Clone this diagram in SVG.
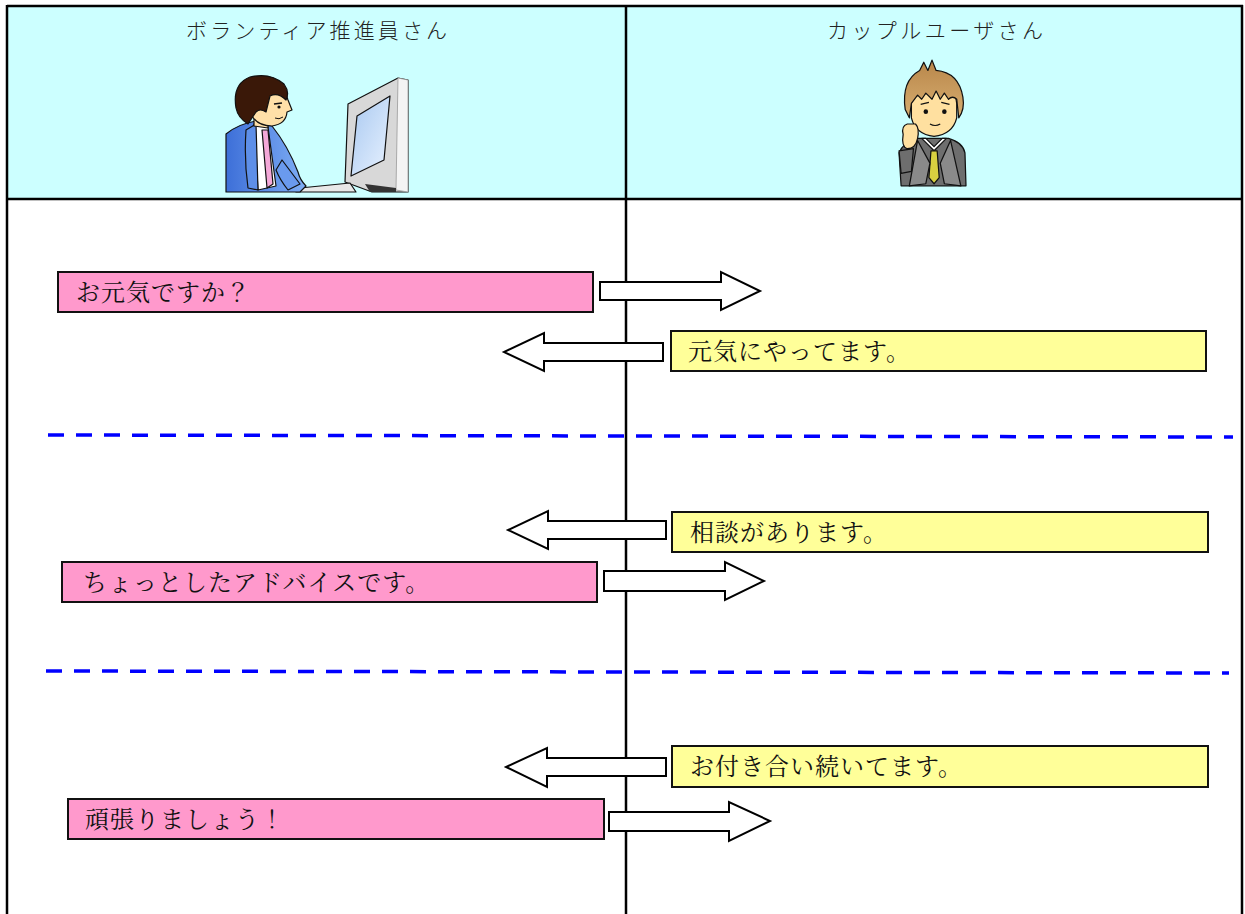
<svg xmlns="http://www.w3.org/2000/svg" width="1245" height="914" viewBox="0 0 1245 914">
  <defs>
    <style>
      .hdr { font-family: "Noto Sans CJK JP", "Noto Sans CJK SC", sans-serif; font-size: 21px; font-weight: 300; fill: #222; }
      .msg { font-family: "Noto Serif CJK JP", "Noto Sans CJK JP", "Noto Sans CJK SC", serif; font-size: 24px; letter-spacing: 1px; fill: #111; }
      .pink { fill: #FF99CC; stroke: #111; stroke-width: 2; }
      .yellow { fill: #FFFF99; stroke: #111; stroke-width: 2; }
      .arrow { fill: #FFFFFF; stroke: #000; stroke-width: 2; stroke-linejoin: miter; }
      .divider { stroke: #0000FF; stroke-width: 3.5; stroke-dasharray: 16 12; fill: none; }
      .grid { stroke: #000; stroke-width: 2.5; fill: none; }
      .ink { stroke: #111; stroke-width: 1.2; stroke-linejoin: round; }
    </style>
    <linearGradient id="suitBlue" x1="0" y1="0" x2="1" y2="0">
      <stop offset="0" stop-color="#3D6FD8"/>
      <stop offset="1" stop-color="#7FAEF5"/>
    </linearGradient>
    <linearGradient id="screen" x1="0" y1="0" x2="1" y2="1">
      <stop offset="0" stop-color="#A8C8F0"/>
      <stop offset="1" stop-color="#E8F2FF"/>
    </linearGradient>
    <linearGradient id="hairBrown" x1="0" y1="0" x2="0" y2="1">
      <stop offset="0" stop-color="#B8864A"/>
      <stop offset="1" stop-color="#D8AE70"/>
    </linearGradient>
  </defs>

  <!-- page background and header band -->
  <rect x="0" y="0" width="1245" height="914" fill="#FFFFFF"/>
  <rect x="7" y="6" width="1236" height="193" fill="#CCFFFF"/>

  <!-- table frame -->
  <g id="table">
    <line class="grid" x1="7" y1="6" x2="1243" y2="6"/>
    <line class="grid" x1="7" y1="199" x2="1243" y2="199"/>
    <line class="grid" x1="7" y1="5" x2="7" y2="914"/>
    <line class="grid" x1="1242" y1="5" x2="1242" y2="914"/>
    <line class="grid" x1="626" y1="5" x2="626" y2="914"/>
  </g>

  <!-- column heading: volunteer -->
  <g id="volunteer">
    <text class="hdr" x="186" y="38" textLength="261" lengthAdjust="spacing">ボランティア推進員さん</text>
    <!-- monitor -->
    <g id="monitor">
      <polygon points="348,104 398,78 408,80 408,192 372,192 345,182" fill="#D8D8D8" class="ink"/>
      <polygon points="398,78 408,80 408,192 396,190" fill="#F4F4F4" stroke="#999" stroke-width="0.8"/>
      <polygon points="357,116 390,96 384,160 351,176" fill="url(#screen)" class="ink"/>
      <polygon points="365,184 396,188 396,192 370,192" fill="#333"/>
    </g>
    <!-- keyboard -->
    <polygon points="300,188 350,183 356,192 296,192" fill="#E8E8E8" class="ink"/>
    <!-- man -->
    <g id="manAtDesk">
      <path d="M226,192 L226,134 Q238,124 256,121 L272,126 Q288,146 298,172 Q300,180 306,186 L300,192 Z" fill="url(#suitBlue)" class="ink"/>
      <path d="M254,124 L268,127 L276,186 L258,190 Z" fill="#FFFFFF" class="ink"/>
      <path d="M262,130 L268,130 L273,184 L267,188 Z" fill="#F4A8D8" class="ink"/>
      <path d="M246,130 L256,124 L258,190 L248,188 Q244,160 246,130 Z" fill="#5E8FE8" class="ink"/>
      <path d="M282,160 Q294,176 300,184 L288,190 Q280,180 276,170 Z" fill="#6A9AEE" class="ink"/>
      <path d="M254,110 L254,126 L268,128 L268,112 Z" fill="#FFE0A8" class="ink"/>
      <path d="M244,96 Q246,82 264,82 Q284,84 288,100 L292,110 L287,112 Q286,124 272,126 Q258,126 252,116 Q244,112 244,96 Z" fill="#FFE0A8" class="ink"/>
      <path d="M236,108 Q232,84 250,77 Q270,72 284,84 Q290,92 286,100 Q278,92 270,96 L266,112 Q260,108 256,112 Q252,118 248,124 Q238,118 236,108 Z" fill="#3A1808" class="ink"/>
      <path d="M274,104 L282,103" stroke="#111" stroke-width="1.6"/>
      <circle cx="279" cy="107" r="1.6" fill="#111"/>
      <path d="M275,118 Q279,120 283,117" stroke="#111" stroke-width="1" fill="none"/>
    </g>
  </g>

  <!-- column heading: couple user -->
  <g id="coupleUser">
    <text class="hdr" x="827" y="38" textLength="216" lengthAdjust="spacing">カップルユーザさん</text>
    <g id="youngMan" transform="translate(932,124) scale(1.03) translate(-932,-124)">
      <!-- suit -->
      <path d="M902,184 L900,152 Q904,142 918,138 L948,138 Q962,142 964,152 L965,184 Z" fill="#6E6E6E" class="ink"/>
      <path d="M922,138 L934,150 L946,138 L942,138 L934,146 L926,138 Z" fill="#FFFFFF" class="ink"/>
      <path d="M931,150 L937,150 L939,176 L934,182 L929,176 Z" fill="#D8D040" class="ink"/>
      <path d="M918,140 L930,162 L926,182 L910,184 Z" fill="#8A8A8A" class="ink"/>
      <path d="M950,140 L940,162 L944,182 L960,184 Z" fill="#8A8A8A" class="ink"/>
      <!-- head -->
      <path d="M912,104 Q912,84 932,82 Q954,84 956,104 L956,118 Q952,134 934,136 Q916,134 912,118 Z" fill="#FFE0A0" class="ink"/>
      <path d="M906,110 Q902,82 920,72 L924,64 L928,72 L932,62 L936,72 Q958,74 962,98 Q964,110 958,118 L956,100 Q952,96 948,100 L944,94 L940,100 L936,92 L932,100 L926,94 L922,100 L918,96 L912,104 L910,118 Z" fill="url(#hairBrown)" class="ink"/>
      <circle cx="926" cy="112" r="2.2" fill="#111"/>
      <circle cx="944" cy="112" r="2.2" fill="#111"/>
      <path d="M921,105 L929,103 M941,103 L949,105" stroke="#111" stroke-width="1.2"/>
      <path d="M930,124 Q935,127 940,124" stroke="#111" stroke-width="1" fill="none"/>
      <!-- raised fist -->
      <path d="M900,150 L902,172 L912,170 L914,148 Z" fill="#6E6E6E" class="ink"/>
      <path d="M904,134 Q902,126 908,124 L916,124 Q920,128 918,138 Q916,148 908,148 Q902,146 904,134 Z" fill="#FFE0A0" class="ink"/>
    </g>
  </g>

  <!-- section dividers -->
  <g id="dividers">
    <line class="divider" x1="48" y1="435" x2="1233" y2="437"/>
    <line class="divider" x1="46" y1="671" x2="1229" y2="673"/>
  </g>

  <!-- message boxes -->
  <g id="msg1">
    <rect class="pink" x="58" y="272" width="535" height="40"/>
    <text class="msg" x="76" y="301">お元気ですか？</text>
  </g>
  <g id="msg2">
    <rect class="yellow" x="671" y="331" width="535" height="40"/>
    <text class="msg" x="688" y="360">元気にやってます。</text>
  </g>
  <g id="msg3">
    <rect class="yellow" x="672" y="512" width="536" height="40"/>
    <text class="msg" x="690" y="541">相談があります。</text>
  </g>
  <g id="msg4">
    <rect class="pink" x="62" y="562" width="535" height="40"/>
    <text class="msg" x="83" y="591">ちょっとしたアドバイスです。</text>
  </g>
  <g id="msg5">
    <rect class="yellow" x="672" y="746" width="536" height="41"/>
    <text class="msg" x="690" y="775">お付き合い続いてます。</text>
  </g>
  <g id="msg6">
    <rect class="pink" x="68" y="799" width="536" height="40"/>
    <text class="msg" x="85" y="828">頑張りましょう！</text>
  </g>

  <!-- block arrows between the two columns -->
  <g id="connectors">
    <polygon class="arrow" points="600,282 721,282 721,272 760,291 721,310 721,300 600,300"/>
    <polygon class="arrow" points="663,343 544,343 544,333 504,352 544,371 544,361 663,361"/>
    <polygon class="arrow" points="666,521 548,521 548,511 508,530 548,549 548,539 666,539"/>
    <polygon class="arrow" points="604,571 725,571 725,562 764,581 725,600 725,591 604,591"/>
    <polygon class="arrow" points="666,758 547,758 547,748 506,767 547,787 547,776 666,776"/>
    <polygon class="arrow" points="609,812 729,812 729,802 770,821 729,841 729,831 609,831"/>
  </g>
</svg>
